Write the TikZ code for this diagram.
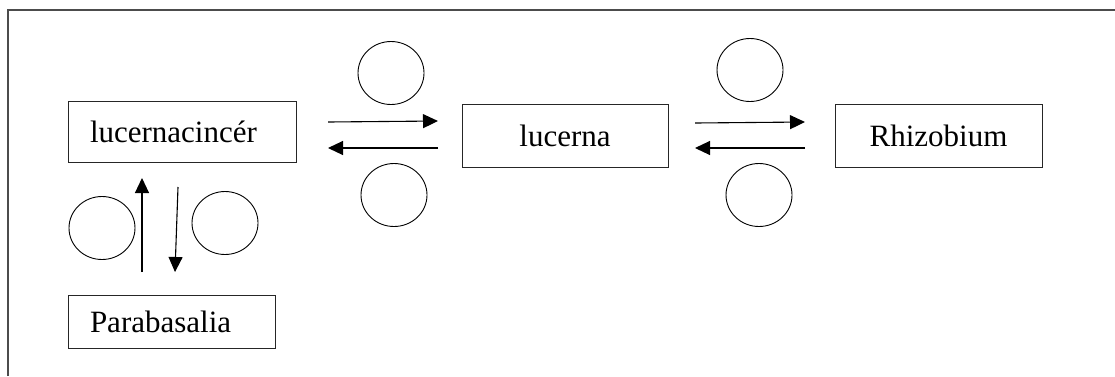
\documentclass[tikz,border=0pt]{standalone}
\usepackage{fontspec}
\setmainfont{Liberation Serif}
\usetikzlibrary{arrows.meta,shapes.geometric}
\begin{document}
\begin{tikzpicture}[x=1pt,y=-1pt,
  box/.style={draw=black!85,line width=1pt,rectangle,inner ysep=0pt,font=\fontsize{31}{36}\selectfont},
  lbox/.style={box,align=left,inner xsep=22pt},
  cbox/.style={box,align=center,inner xsep=0pt},
  bub/.style={draw,line width=0.9pt,ellipse,inner sep=0pt,minimum width=66pt,minimum height=63pt},
  arr/.style={line width=1.1pt,-{Triangle[length=15pt,width=14pt]}}]
\useasboundingbox (0,0) rectangle (1115,376);
\draw[line width=2pt,black!70] (8,376) -- (8,10) -- (1115,10);
% boxes
\node[lbox,text width=184pt,minimum height=61pt] (a) at (182,131.5) {lucernacincér};
\node[cbox,minimum width=206pt,minimum height=63pt] (b) at (565,135.5) {lucerna};
\node[cbox,minimum width=207pt,minimum height=63pt] (c) at (938.5,135.5) {Rhizobium};
\node[lbox,text width=163pt,minimum height=53pt] (d) at (171.5,321.5) {Parabasalia};
% arrow end points
\coordinate (p1) at (328,122); \coordinate (p2) at (438,121);
\coordinate (p3) at (438,148); \coordinate (p4) at (328,148);
\coordinate (q1) at (695,123); \coordinate (q2) at (805,122);
\coordinate (q3) at (805,148); \coordinate (q4) at (695,148);
\coordinate (r1) at (142,272); \coordinate (r2) at (142,178);
\coordinate (r3) at (178,187); \coordinate (r4) at (175,272);
\draw[arr] (p1) -- (p2);
\draw[arr] (p3) -- (p4);
\draw[arr] (q1) -- (q2);
\draw[arr] (q3) -- (q4);
\draw[arr] (r1) -- (r2);
\draw[arr] (r3) -- (r4);
% bubbles
\node[bub] (e1) at (391,73) {};
\node[bub] (e2) at (394,195) {};
\node[bub] (e3) at (750,70) {};
\node[bub] (e4) at (759,195) {};
\node[bub] (e5) at (102,228) {};
\node[bub] (e6) at (225,223) {};
\end{tikzpicture}
\end{document}
